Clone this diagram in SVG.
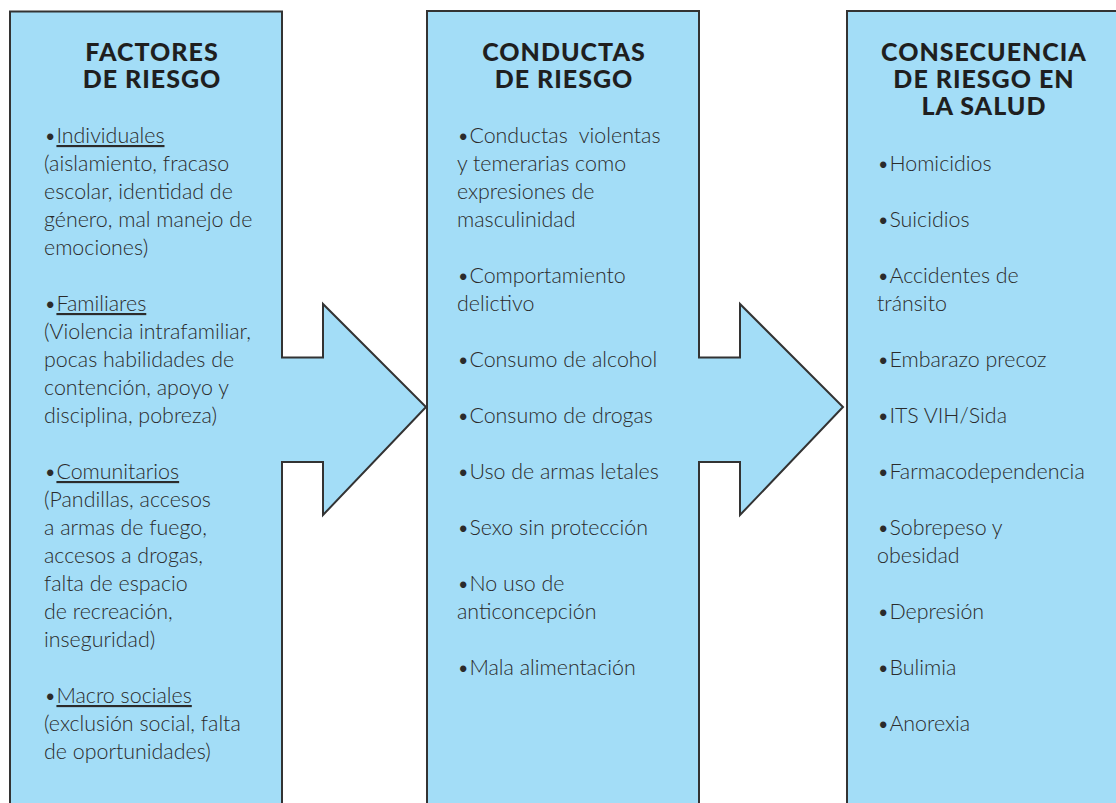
<svg xmlns="http://www.w3.org/2000/svg" width="1116" height="803" viewBox="0 0 1116 803">
<style>
.box{fill:#a3ddf7;stroke:#333;stroke-width:2;stroke-linejoin:miter}
.h{font-family:Lato,"Open Sans","Liberation Sans",sans-serif;font-weight:900;font-size:25px;letter-spacing:1px;fill:#1f1f1f;text-anchor:middle}
.t{font-family:Lato,"Open Sans","Liberation Sans",sans-serif;font-weight:300;font-size:21.4px;fill:#2b2b2b}
.u{text-decoration:underline}
</style>
<rect width="1116" height="803" fill="#fff"/>
<g id="connectors"></g>
<g id="factores">
<path class="box" d="M10,11.5 H282 V357.5 H323 V304 L426,407 L323,515 V462 H282 V815 H10 Z"/>
<text class="h" x="152" y="61">FACTORES</text>
<text class="h" x="152" y="88">DE RIESGO</text>
<text class="t" x="44" y="143">•<tspan class="u">Individuales</tspan></text>
<text class="t" x="44" y="171">(aislamiento, fracaso</text>
<text class="t" x="44" y="199">escolar, identidad de</text>
<text class="t" x="44" y="227">género, mal manejo de</text>
<text class="t" x="44" y="255">emociones)</text>
<text class="t" x="44" y="311">•<tspan class="u">Familiares</tspan></text>
<text class="t" x="44" y="339">(Violencia intrafamiliar,</text>
<text class="t" x="44" y="367">pocas habilidades de</text>
<text class="t" x="44" y="395">contención, apoyo y</text>
<text class="t" x="44" y="423">disciplina, pobreza)</text>
<text class="t" x="44" y="479">•<tspan class="u">Comunitarios</tspan></text>
<text class="t" x="44" y="507">(Pandillas, accesos</text>
<text class="t" x="44" y="535">a armas de fuego,</text>
<text class="t" x="44" y="563">accesos a drogas,</text>
<text class="t" x="44" y="591">falta de espacio</text>
<text class="t" x="44" y="619">de recreación,</text>
<text class="t" x="44" y="647">inseguridad)</text>
<text class="t" x="44" y="703">•<tspan class="u">Macro sociales</tspan></text>
<text class="t" x="44" y="731">(exclusión social, falta</text>
<text class="t" x="44" y="759">de oportunidades)</text>
</g>
<g id="conductas">
<path class="box" d="M427,11 H699 V357.5 H740 V304 L843,407 L740,515 V462 H699 V815 H427 Z"/>
<text class="h" x="564" y="61">CONDUCTAS</text>
<text class="h" x="564" y="88">DE RIESGO</text>
<text class="t" x="457" y="143" xml:space="preserve">•Conductas  violentas</text>
<text class="t" x="457" y="171">y temerarias como</text>
<text class="t" x="457" y="199">expresiones de</text>
<text class="t" x="457" y="227">masculinidad</text>
<text class="t" x="457" y="283">•Comportamiento</text>
<text class="t" x="457" y="311">delictivo</text>
<text class="t" x="457" y="367">•Consumo de alcohol</text>
<text class="t" x="457" y="423">•Consumo de drogas</text>
<text class="t" x="457" y="479">•Uso de armas letales</text>
<text class="t" x="457" y="535">•Sexo sin protección</text>
<text class="t" x="457" y="591">•No uso de</text>
<text class="t" x="457" y="619">anticoncepción</text>
<text class="t" x="457" y="675">•Mala alimentación</text>
</g>
<g id="consecuencia">
<path class="box" d="M847,11 H1125 V815 H847 Z"/>
<text class="h" x="984" y="61">CONSECUENCIA</text>
<text class="h" x="984" y="88">DE RIESGO EN</text>
<text class="h" x="984" y="115">LA SALUD</text>
<text class="t" x="877" y="171">•Homicidios</text>
<text class="t" x="877" y="227">•Suicidios</text>
<text class="t" x="877" y="283">•Accidentes de</text>
<text class="t" x="877" y="311">tránsito</text>
<text class="t" x="877" y="367">•Embarazo precoz</text>
<text class="t" x="877" y="423">•ITS VIH/Sida</text>
<text class="t" x="877" y="479">•Farmacodependencia</text>
<text class="t" x="877" y="535">•Sobrepeso y</text>
<text class="t" x="877" y="563">obesidad</text>
<text class="t" x="877" y="619">•Depresión</text>
<text class="t" x="877" y="675">•Bulimia</text>
<text class="t" x="877" y="731">•Anorexia</text>
</g>
</svg>
